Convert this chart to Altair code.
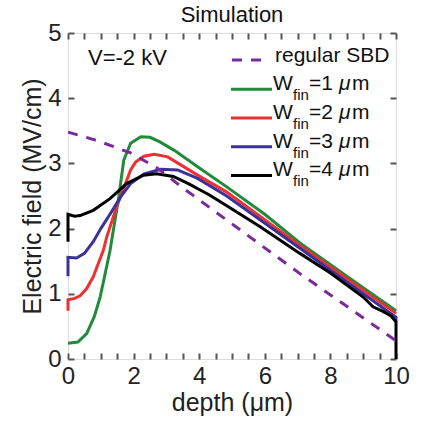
import altair as alt
import pandas as pd

FONT = "Liberation Sans"

# ---------------- data ----------------
depth_sbd = [0, 0.89, 1.91, 2.72, 3.54, 7.07, 10]
field_sbd = [3.48, 3.35, 3.16, 2.93, 2.61, 1.31, 0.28]

depth_w1 = [0, 0.3, 0.57, 0.8, 0.98, 1.15, 1.28, 1.43, 1.55, 1.70, 1.91, 2.22, 2.5, 2.8, 3.24, 3.95, 4.84, 6.0, 7.07, 8.5, 10]
field_w1 = [0.24, 0.26, 0.39, 0.65, 0.95, 1.35, 1.66, 2.12, 2.49, 3.05, 3.31, 3.41, 3.40, 3.33, 3.20, 2.95, 2.64, 2.22, 1.78, 1.27, 0.74]

depth_w2 = [0, 0, 0.2, 0.37, 0.57, 0.77, 1.08, 1.18, 1.48, 1.79, 1.91, 2.06, 2.32, 2.63, 3.04, 3.95, 4.84, 7.07, 10]
field_w2 = [0.74, 0.91, 0.93, 0.97, 1.08, 1.26, 1.67, 1.87, 2.33, 2.74, 2.90, 3.02, 3.11, 3.14, 3.10, 2.82, 2.56, 1.74, 0.70]

depth_w3 = [0, 0, 0.26, 0.5, 0.77, 1.0, 1.28, 1.61, 1.91, 2.32, 2.83, 3.34, 3.95, 4.84, 7.07, 10, 10]
field_w3 = [1.27, 1.56, 1.55, 1.62, 1.80, 2.00, 2.22, 2.49, 2.69, 2.84, 2.91, 2.90, 2.77, 2.50, 1.70, 0.64, 0.58]

depth_w4 = [0, 0, 0.2, 0.37, 0.77, 1.28, 1.79, 2.30, 2.70, 3.21, 3.67, 4.0, 4.3, 4.84, 5.86, 7.07, 8.0, 9.0, 9.3, 9.6, 9.85, 10, 10]
field_w4 = [1.80, 2.22, 2.19, 2.20, 2.28, 2.46, 2.69, 2.82, 2.84, 2.80, 2.69, 2.60, 2.52, 2.35, 2.03, 1.62, 1.32, 0.95, 0.80, 0.73, 0.66, 0.57, 0.0]

series_names = ["W1", "W2", "W3", "W4"]
series_colors = ["#228a3a", "#ee3030", "#3a3299", "#000000"]
series_numbers = ["=1 ", "=2 ", "=3 ", "=4 "]
sbd_color = "#7b2a99"

x_label_values = [0, 2, 4, 6, 8, 10]
x_tick_values = [i * 0.5 for i in range(21)]
y_values = [0, 1, 2, 3, 4, 5]

# ---------------- tables ----------------
df_sbd = pd.DataFrame({"depth": depth_sbd, "field": field_sbd, "i": range(len(depth_sbd))})
rows = []
for name, xs, ys in zip(series_names, [depth_w1, depth_w2, depth_w3, depth_w4],
                        [field_w1, field_w2, field_w3, field_w4]):
    for k, (a, b) in enumerate(zip(xs, ys)):
        rows.append({"depth": a, "field": b, "series": name, "i": k})
df_fin = pd.DataFrame(rows)

W, H = 328, 326
xscale = alt.Scale(domain=[0, 10], nice=False, zero=False)
yscale = alt.Scale(domain=[0, 5], nice=False, zero=False)

TICK_COLOR = "#555555"
TXT = "#111111"

axis_bottom = alt.Axis(orient="bottom", values=x_label_values, ticks=False, domain=False, grid=False,
                       labelFontSize=24, labelFont=FONT, labelColor="#222222", labelPadding=5,
                       labelFlush=False, labelOverlap=False, format="d",
                       title="depth (μm)", titleFontSize=25, titleFont=FONT, titleFontWeight="normal",
                       titleColor="#222222", titlePadding=2)
axis_left = alt.Axis(orient="left", values=y_values, ticks=False, domain=False, grid=False,
                     labelFontSize=24, labelFont=FONT, labelColor="#222222", labelPadding=7,
                     labelFlush=False, labelOverlap=False, format="d",
                     title="Electric field (MV/cm)", titleFontSize=25, titleFont=FONT,
                     titleFontWeight="normal", titleColor="#222222", titlePadding=2)

def tick_axis(orient, values, offset):
    return alt.Axis(orient=orient, values=values, offset=offset, labels=False, domain=False, grid=False,
                    ticks=True, tickSize=6, tickWidth=2, tickColor=TICK_COLOR, title=None)

sbd = alt.Chart(df_sbd).mark_line(strokeDash=[10, 9], strokeWidth=3, color=sbd_color).encode(
    x=alt.X("depth:Q", scale=xscale, axis=axis_bottom),
    y=alt.Y("field:Q", scale=yscale, axis=axis_left),
    order=alt.Order("i:Q"),
)

fins = alt.Chart(df_fin).mark_line(strokeWidth=3).encode(
    x=alt.X("depth:Q", scale=xscale, axis=tick_axis("top", x_tick_values, -H)),
    y=alt.Y("field:Q", scale=yscale, axis=tick_axis("right", y_values, -W)),
    color=alt.Color("series:N", scale=alt.Scale(domain=series_names, range=series_colors), legend=None),
    order=alt.Order("i:Q"),
)

ghost = alt.Chart(df_sbd).mark_line(opacity=0).encode(
    x=alt.X("depth:Q", scale=xscale, axis=tick_axis("bottom", x_tick_values, -H)),
    y=alt.Y("field:Q", scale=yscale, axis=tick_axis("left", y_values, -W)),
)

layers = [ghost, fins, sbd]

def txt(text, x, y, size, style="normal", align="left"):
    return alt.Chart().mark_text(text=text, font=FONT, fontSize=size, fontStyle=style, align=align,
                                 baseline="alphabetic", color=TXT).encode(
        x=alt.value(x), y=alt.value(y))

# title and annotation
layers.append(txt("Simulation", W / 2, -11, 22, align="center"))
layers.append(txt("V=-2 kV", 20, 32, 22))

# legend: regular SBD
layers.append(alt.Chart().mark_rule(strokeDash=[10, 9], strokeWidth=3, color=sbd_color).encode(
    x=alt.value(164), x2=alt.value(196), y=alt.value(27)))
layers.append(txt("regular SBD", 207, 29, 21))

for k, (col, num) in enumerate(zip(series_colors, series_numbers)):
    ly = 56.3 + k * 28.7
    layers.append(alt.Chart().mark_rule(strokeWidth=3, color=col).encode(
        x=alt.value(163), x2=alt.value(204), y=alt.value(ly)))
    layers.append(txt("W", 205, ly + 1, 21))
    layers.append(txt("fin", 225, ly + 11, 15))
    layers.append(txt(num, 241, ly + 1, 21))
    layers.append(txt("μ", 271, ly + 1, 21, style="italic"))
    layers.append(txt("m", 284, ly + 1, 21))

chart = alt.layer(*layers).resolve_axis(x="independent", y="independent").properties(
    width=W, height=H,
    autosize=alt.AutoSizeParams(type="none"),
    padding={"left": 68, "top": 33, "right": 28, "bottom": 63},
).configure_view(stroke=TICK_COLOR, strokeWidth=2.5).configure(background="white")

chart.save("out.html", embed_options={"renderer": "svg", "actions": False})
